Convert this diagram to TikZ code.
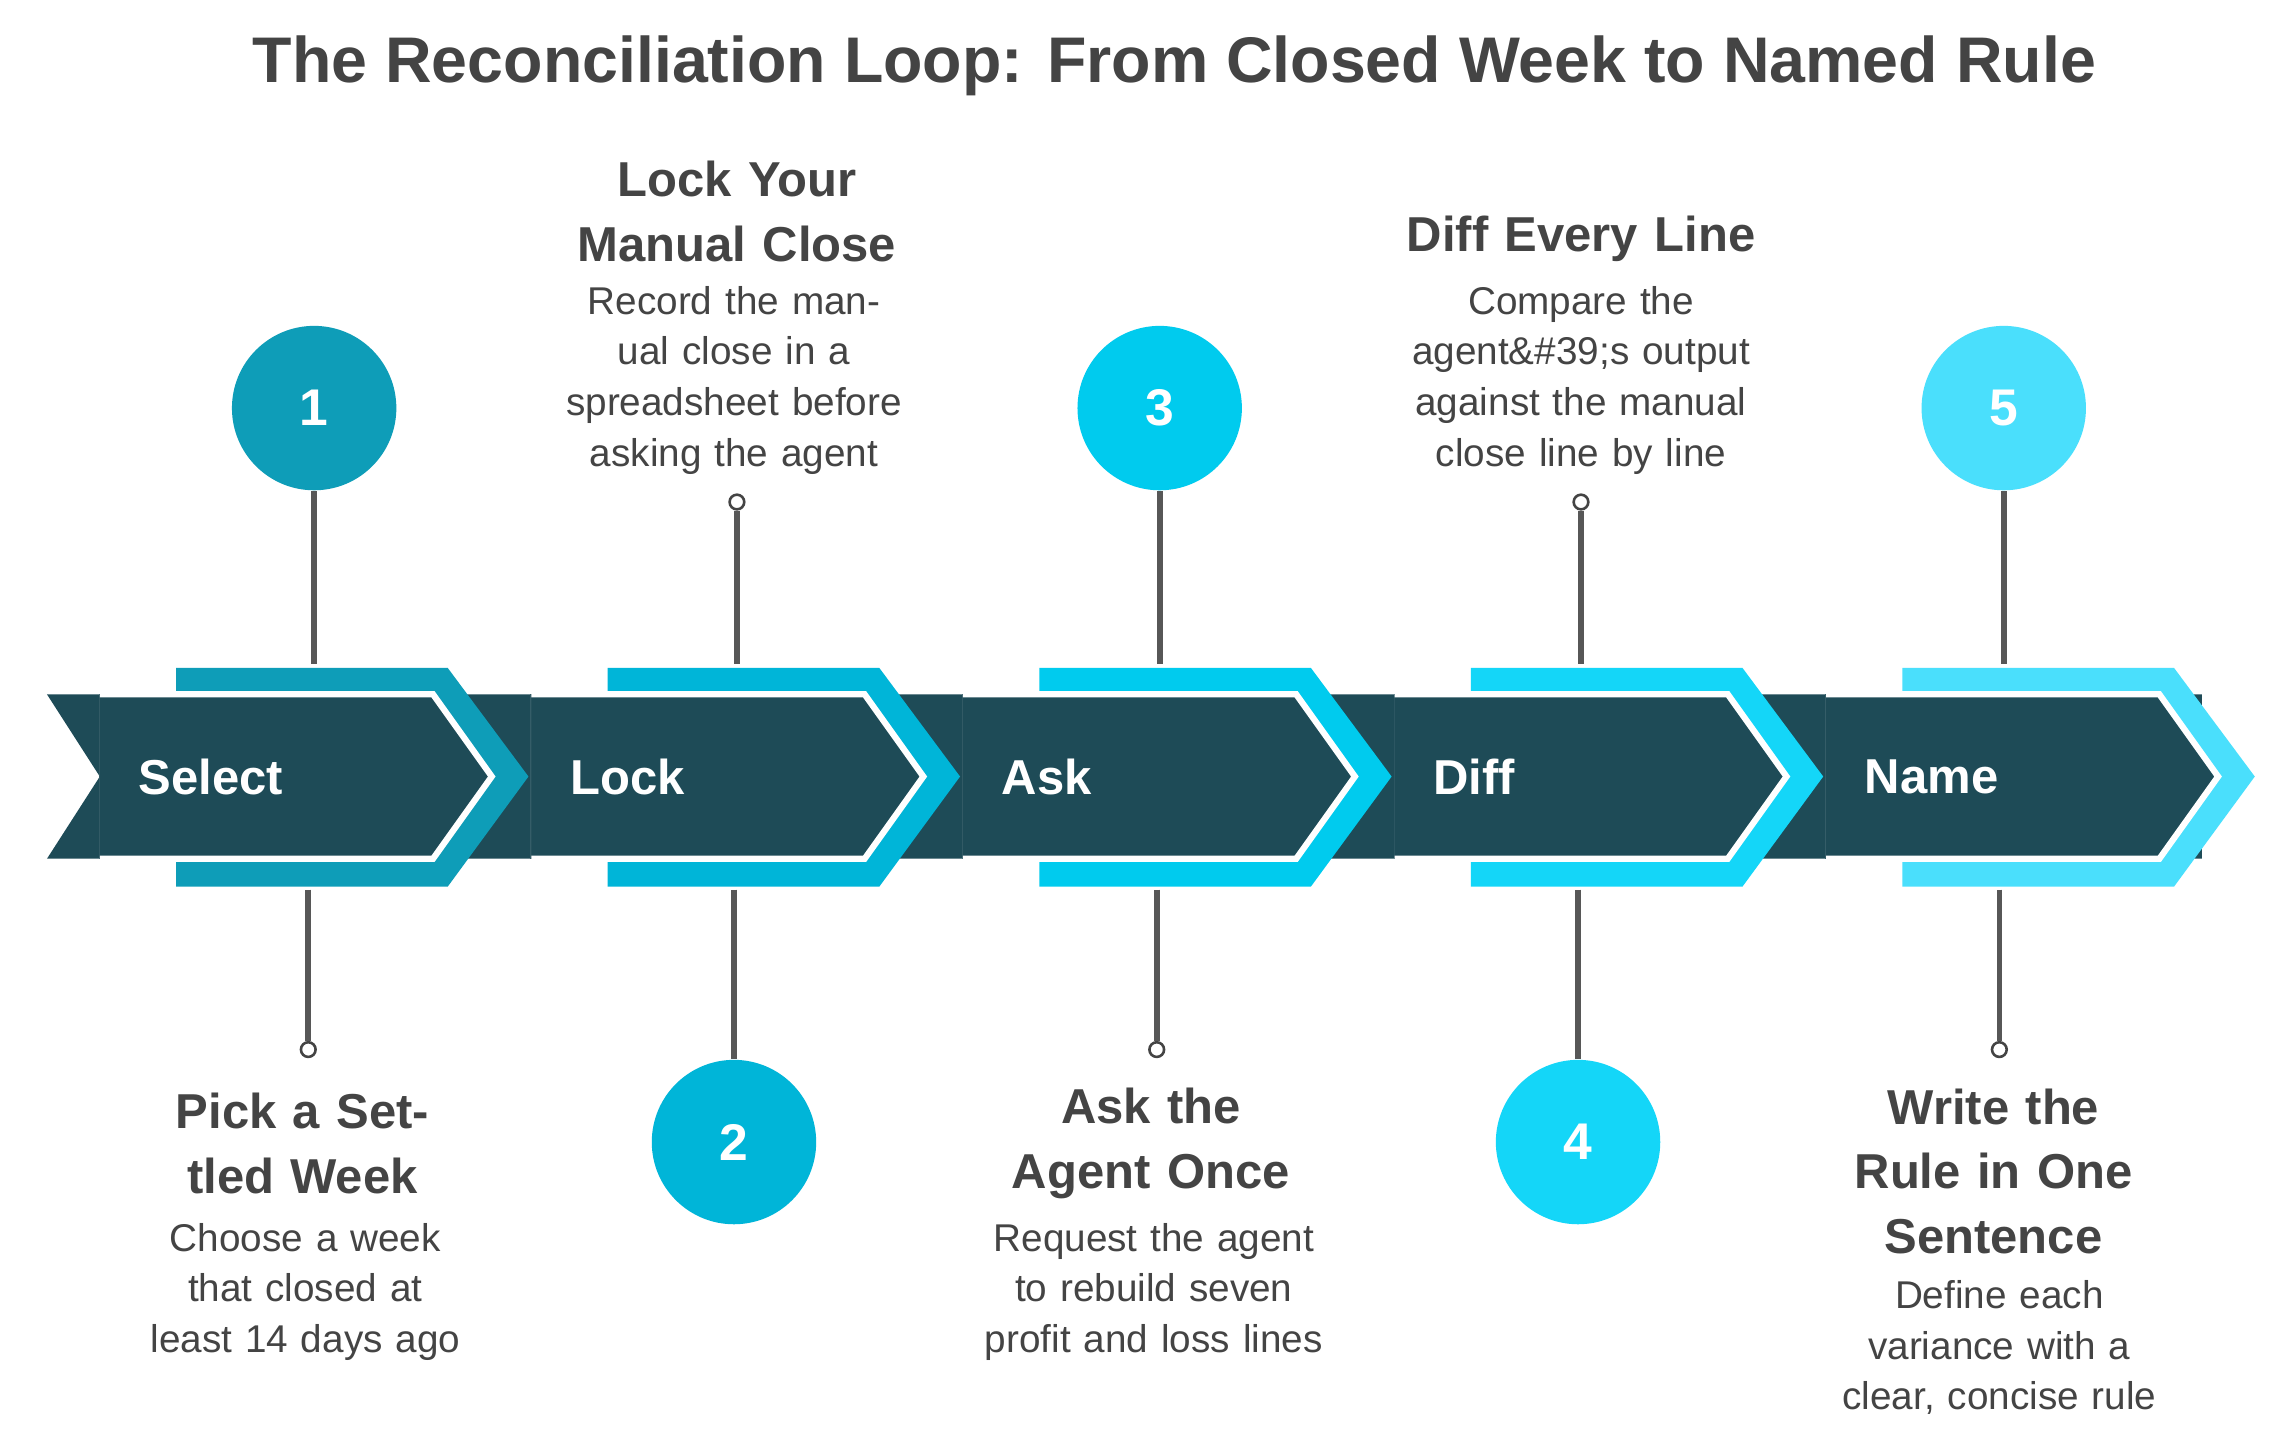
\documentclass[tikz,border=0pt]{standalone}
\usepackage{fontspec}
\setmainfont{Liberation Sans}
\usetikzlibrary{positioning}
\definecolor{band}{HTML}{1E4B57}
\definecolor{txt}{HTML}{444444}
\definecolor{cA}{HTML}{0E9DB8}
\definecolor{cB}{HTML}{00B5D8}
\definecolor{cC}{HTML}{00CBEE}
\definecolor{cD}{HTML}{14D6F8}
\definecolor{cE}{HTML}{4ADFFC}
\tikzset{
    numnode/.style={
        circle,
        minimum size=1.12cm,
        inner sep=0,
        text=white,
        font=\bfseries\fontsize{10}{12}\selectfont
    },
    dotnode/.style={
        circle,
        draw=txt,
        fill=white,
        line width=0.5pt,
        minimum size=0.1cm,
        inner sep=0
    },
    headnode/.style={
        text=txt,
        align=center,
        text width=2.6cm,
        font=\bfseries\fontsize{9.5}{12.5}\selectfont
    },
    descnode/.style={
        text=txt,
        align=center,
        text width=2.4cm,
        font=\fontsize{7.5}{9.8}\selectfont
    },
    bandlabel/.style={
        text=white,
        anchor=west,
        font=\bfseries\fontsize{9.5}{12}\selectfont
    },
    stem/.style={draw=txt!90, line width=1.1pt}
}
\begin{document}
\begin{tikzpicture}[x=0.1mm,y=-0.1mm]
\useasboundingbox (0,0) rectangle (1560,981);
\fill[white] (0,0) rectangle (1560,981);
% title
\node[text=txt, font=\bfseries\fontsize{12.5}{15}\selectfont] (title) at (800,45)
    {The Reconciliation Loop: From Closed Week to Named Rule};
% base band
\fill[band] (32,473) -- (1500,473) -- (1500,585) -- (32,585) -- (68,529) -- cycle;
% chevrons
\foreach \i/\col in {0/cA,1/cB,2/cC,3/cD,4/cE} {
    \pgfmathsetmacro{\xo}{\i*294}
    \begin{scope}[xshift=\xo*0.1mm]
        \fill[\col] (120,455) -- (305,455) -- (360,529) -- (305,604) -- (120,604) -- cycle;
        \draw[band!90!white, line width=0.4pt] (68,473) -- (68,585);
        \fill[band] (68,473) -- (295,473) -- (335,529) -- (295,585) -- (68,585) -- cycle;
        \draw[white, line width=1.2pt] (68,473) -- (295,473) -- (335,529) -- (295,585) -- (68,585);
    \end{scope}
}
% band labels
\node[bandlabel] (sel) at (82,529) {Select};
\node[bandlabel] (lck) at (376,529) {Lock};
\node[bandlabel] (ask) at (670,529) {Ask};
\node[bandlabel] (dif) at (964,529) {Diff};
\node[bandlabel] (nam) at (1258,529) {Name};
% band anchor points
\coordinate (t1) at (214,452); \coordinate (b1) at (210,606);
\coordinate (t2) at (502,452); \coordinate (b2) at (500,606);
\coordinate (t3) at (790,452); \coordinate (b3) at (788,606);
\coordinate (t4) at (1077,452); \coordinate (b4) at (1075,606);
\coordinate (t5) at (1365,452); \coordinate (b5) at (1362,606);
% step 1
\node[numnode, fill=cA] (n1) at (214,278) {1};
\draw[stem] (n1) -- (t1);
\node[dotnode] (d1) at (210,715) {};
\draw[stem] (b1) -- (d1);
\node[headnode] (h1) at (206,779) {Pick a Settled Week};
\node[descnode] (p1) at (208,880) {Choose a week that closed at least 14 days ago};
% step 2
\node[dotnode] (d2) at (502,342) {};
\draw[stem] (d2) -- (t2);
\node[headnode] (h2) at (502,144) {Lock Your Manual Close};
\node[descnode] (p2) at (500,259) {Record the manual close in a spreadsheet before asking the agent};
\node[numnode, fill=cB] (n2) at (500,778) {2};
\draw[stem] (b2) -- (n2);
% step 3
\node[numnode, fill=cC] (n3) at (790,278) {3};
\draw[stem] (n3) -- (t3);
\node[dotnode] (d3) at (788,715) {};
\draw[stem] (b3) -- (d3);
\node[headnode] (h3) at (784,779) {Ask the Agent Once};
\node[descnode] (p3) at (786,880) {Request the agent to rebuild seven profit and loss lines};
% step 4
\node[dotnode] (d4) at (1077,342) {};
\draw[stem] (d4) -- (t4);
\node[headnode] (h4) at (1077,163) {Diff Every Line};
\node[descnode] (p4) at (1077,259) {Compare the agent\&\#39;s output against the manual close line by line};
\node[numnode, fill=cD] (n4) at (1075,778) {4};
\draw[stem] (b4) -- (n4);
% step 5
\node[numnode, fill=cE] (n5) at (1365,278) {5};
\draw[stem] (n5) -- (t5);
\node[dotnode] (d5) at (1362,715) {};
\draw[stem] (b5) -- (d5);
\node[headnode] (h5) at (1358,798) {Write the Rule in One Sentence};
\node[descnode] (p5) at (1362,918) {Define each variance with a clear, concise rule};
\end{tikzpicture}
\end{document}
